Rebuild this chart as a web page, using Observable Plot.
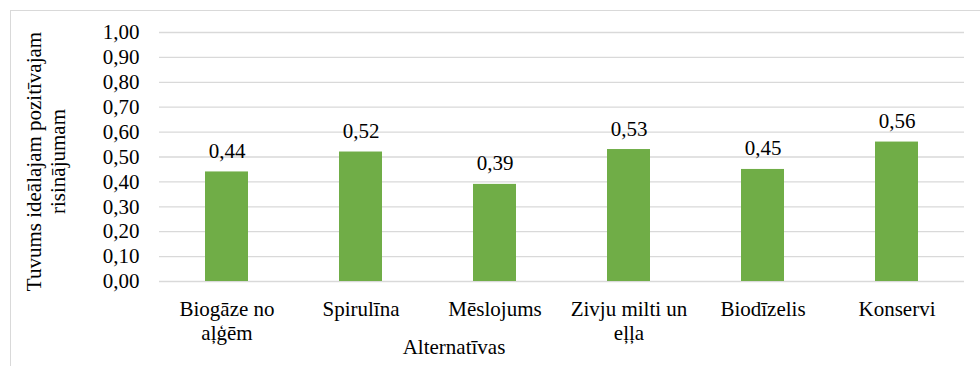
<!DOCTYPE html>
<html lang="lv">
<head>
<meta charset="utf-8">
<script src="https://cdn.jsdelivr.net/npm/d3@7"></script>
<script src="https://cdn.jsdelivr.net/npm/@observablehq/plot@0.6"></script>
<style>
  html, body { margin: 0; padding: 0; background: #fff; overflow: hidden; }
  #wrap { position: relative; width: 980px; height: 366px; }
  #wrap svg { position: absolute; left: 0; top: 0; }
  #wrap svg, #wrap svg text {
    font-family: "Liberation Serif", "Times New Roman", serif !important;
    font-size: 21px;
  }
  #edge {
    position: absolute; left: 10px; top: 10px; width: 990px; height: 380px;
    border-left: 1px solid #d9d9d9; border-top: 1px solid #d9d9d9;
    pointer-events: none;
  }
</style>
</head>
<body>
<div id="wrap"><div id="edge"></div></div>
<script>
// Alternatives and their closeness to the ideal positive solution
const categories = ["Biogāze no\naļģēm", "Spirulīna", "Mēslojums", "Zivju milti un\neļļa", "Biodīzelis", "Konservi"];
const values = [0.44, 0.52, 0.39, 0.53, 0.45, 0.56];
const yTicks = [0, 0.1, 0.2, 0.3, 0.4, 0.5, 0.6, 0.7, 0.8, 0.9, 1.0];
const yTitle = "Tuvums ideālajam pozitīvajam\nrisinājumam";
const xTitle = "Alternatīvas";

const data = categories.map((c, i) => ({cat: c, value: values[i]}));
const fmt = d => d3.format(".2f")(d).replace(".", ",");

const chart = Plot.plot({
  width: 980,
  height: 366,
  marginLeft: 159,
  marginRight: 16,
  marginTop: 32,
  marginBottom: 85,
  style: {
    fontSize: "21px",
    color: "#000",
    background: "transparent"
  },
  x: {domain: categories, paddingInner: 0.68, paddingOuter: 0.34, label: null},
  y: {domain: [0, 1], label: null},
  marks: [
    Plot.ruleY(yTicks, {stroke: "#d9d9d9", strokeWidth: 1.3}),
    Plot.barY(data, {x: "cat", y: "value", fill: "#70ad47"}),
    Plot.text(data, {x: "cat", y: "value", text: d => fmt(d.value), dy: -14, lineAnchor: "bottom", fill: "#000"}),
    Plot.axisY({ticks: yTicks, tickSize: 0, tickPadding: 20, tickFormat: fmt, label: null, fontVariant: "normal"}),
    Plot.axisX({tickSize: 0, tickPadding: 17, lineHeight: 1.15, label: null}),
    Plot.text([yTitle], {frameAnchor: "left", rotate: -90, textAnchor: "middle", dx: -114, dy: 4.5, lineAnchor: "middle", lineHeight: 1.15, fill: "#000"}),
    Plot.text([xTitle], {frameAnchor: "bottom", dx: -108, dy: 72, lineAnchor: "bottom", fill: "#000"})
  ]
});
document.getElementById("wrap").prepend(chart);
</script>
</body>
</html>
